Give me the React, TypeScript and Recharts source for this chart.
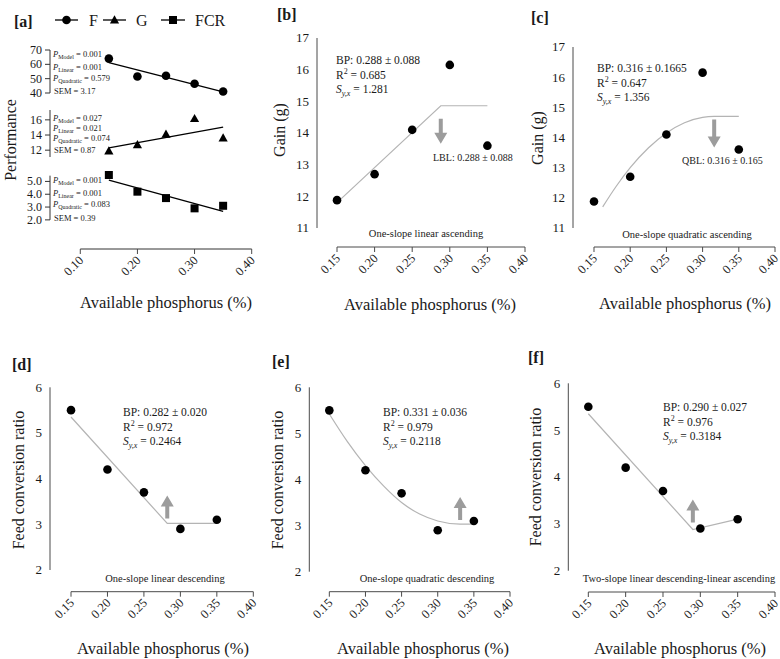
import React from 'react';
import { ComposedChart, Scatter, Line, XAxis, YAxis, ReferenceLine } from 'recharts';

const SERIF = '"Liberation Serif", "Times New Roman", Times, serif';
const AXIS = '#4a4a4a';
const INK = '#1a1a1a';
const FIT = '#b4b4b4';
const ARROW = '#9c9c9c';

// Dietary available phosphorus levels (%)
const phosphorus = [0.15, 0.2, 0.25, 0.3, 0.35];

// Performance responses
const feedIntake = [64, 51.5, 52, 46.5, 41];
const weightGain = [11.88, 12.7, 14.1, 16.15, 13.6];
const feedConversion = [5.5, 4.2, 3.7, 2.9, 3.1];

// Linear trend lines of panel a (fitted values at the lowest and highest level)
const trendX = [0.15, 0.35];
const feedIntakeTrend = [61.2, 40.8];
const weightGainTrend = [12.3, 15.05];
const feedConversionTrend = [5.1, 2.66];

// Regression statistics of panel a: P model, P linear, P quadratic, SEM
const feedIntakeStats = ['0.001', '0.001', '0.579', '3.17'];
const weightGainStats = ['0.027', '0.021', '0.074', '0.87'];
const feedConversionStats = ['0.001', '0.001', '0.083', '0.39'];

// Axis ticks
const ticksA = [0.1, 0.2, 0.3, 0.4];
const ticksBP = [0.15, 0.2, 0.25, 0.3, 0.35, 0.4];
const feedIntakeTicks = [40, 50, 60, 70];
const weightGainTicks = [12, 14, 16];
const feedConversionTicks = [2, 3, 4, 5];
const gainTicks = [11, 12, 13, 14, 15, 16, 17];
const fcrTicks = [2, 3, 4, 5, 6];

// Broken-line models
const gainLinearX = [0.15, 0.288, 0.35];
const gainLinearY = [11.8, 14.86, 14.86];
const gainQuadX = [0.162, 0.18, 0.2, 0.225, 0.25, 0.275, 0.3, 0.316, 0.35];
const gainQuadY = [11.7, 12.36, 13.0, 13.65, 14.15, 14.49, 14.67, 14.7, 14.7];
const fcrLinearX = [0.15, 0.282, 0.35];
const fcrLinearY = [5.35, 3.02, 3.02];
const fcrQuadX = [0.15, 0.175, 0.2, 0.225, 0.25, 0.275, 0.3, 0.331, 0.35];
const fcrQuadY = [5.42, 4.82, 4.3, 3.86, 3.5, 3.25, 3.1, 3.03, 3.03];
const fcrTwoSlopeX = [0.15, 0.29, 0.35];
const fcrTwoSlopeY = [5.35, 2.88, 3.1];

// Break points (BP)
const bpGainLinear = 0.288;
const bpGainQuad = 0.316;
const bpFcrLinear = 0.282;
const bpFcrQuad = 0.331;
const bpFcrTwoSlope = 0.29;

type Pt = { x: number; y: number };
const pairs = (xs: number[], ys: number[]): Pt[] => xs.map((x, i) => ({ x, y: ys[i] }));

const withMinor = (majors: number[], parts: number) => {
  const out: number[] = [];
  majors.forEach((m, i) => {
    out.push(m);
    if (i < majors.length - 1) {
      for (let k = 1; k < parts; k++) out.push(+(m + ((majors[i + 1] - m) * k) / parts).toFixed(4));
    }
  });
  return out;
};

const isMajor = (majors: number[], v: number) => majors.some((m) => Math.abs(m - v) < 1e-6);

const XTick = (props: any) => {
  const { x, y, payload } = props;
  const ax = x + 4;
  const ay = y + 12;
  return (
    <g>
      <line x1={x} y1={y} x2={x} y2={y + 5} stroke={AXIS} strokeWidth={1} />
      <text
        x={ax}
        y={ay}
        textAnchor="end"
        transform={`rotate(-45 ${ax} ${ay})`}
        fontSize={12.5}
        fontFamily={SERIF}
        fill={INK}
      >
        {Number(payload.value).toFixed(2)}
      </text>
    </g>
  );
};

const YTick = (props: any) => {
  const { x, y, payload, majors, fmt, stroke, fontSize } = props;
  const major = isMajor(majors, payload.value);
  return (
    <g>
      <line x1={x} y1={y} x2={x - (major ? 5 : 3)} y2={y} stroke={stroke || AXIS} strokeWidth={1} />
      {major && (
        <text x={x - 8} y={y} dy="0.34em" textAnchor="end" fontSize={fontSize || 13} fontFamily={SERIF} fill={INK}>
          {fmt ? fmt(payload.value) : String(payload.value)}
        </text>
      )}
    </g>
  );
};

const dotShape = (p: any) => <circle cx={p.cx} cy={p.cy} r={4.3} fill="#000" />;
const triangleShape = (p: any) => (
  <polygon
    points={`${p.cx},${p.cy - 4.8} ${p.cx + 4.6},${p.cy + 3.4} ${p.cx - 4.6},${p.cy + 3.4}`}
    fill="#000"
  />
);
const squareShape = (p: any) => <rect x={p.cx - 4} y={p.cy - 4} width={8} height={8} fill="#000" />;

const arrowShape = (dir: number, length: number) => (p: any) => {
  const { cx, cy } = p;
  const head = 11;
  const neck = cy + dir * (length - head);
  const tip = cy + dir * length;
  return (
    <polygon
      points={`${cx - 2},${cy} ${cx + 2},${cy} ${cx + 2},${neck} ${cx + 6.5},${neck} ${cx},${tip} ${cx - 6.5},${neck} ${cx - 2},${neck}`}
      fill={ARROW}
    />
  );
};

type Box = { left: number; top: number; width: number; height: number };
type Plot = { left: number; top: number; right: number; bottom: number };

type FitPanelProps = {
  box: Box;
  plot: Plot;
  xDomain: [number, number];
  yDomain: [number, number];
  yMajor: number[];
  points: Pt[];
  fit: Pt[];
  curve: 'linear' | 'monotone';
  arrow: Pt;
  arrowDir: number;
  arrowLength: number;
};

function FitPanel(p: FitPanelProps) {
  const margin = {
    top: p.plot.top - p.box.top,
    right: p.box.left + p.box.width - p.plot.right,
    bottom: 0,
    left: 0,
  };
  const yWidth = p.plot.left - p.box.left;
  const xHeight = p.box.top + p.box.height - p.plot.bottom;
  const yLo = p.yMajor[0];
  const yHi = p.yMajor[p.yMajor.length - 1];
  return (
    <div style={{ position: 'absolute', left: p.box.left, top: p.box.top }}>
      <ComposedChart width={p.box.width} height={p.box.height} margin={margin}>
        <XAxis
          type="number"
          dataKey="x"
          domain={p.xDomain}
          ticks={ticksBP}
          interval={0}
          height={xHeight}
          axisLine={false}
          tickLine={false}
          tickSize={0}
          tickMargin={0}
          tick={(t: any) => <XTick {...t} />}
        />
        <YAxis
          type="number"
          dataKey="y"
          domain={p.yDomain}
          ticks={withMinor(p.yMajor, 5)}
          interval={0}
          width={yWidth}
          axisLine={false}
          tickLine={false}
          tickSize={0}
          tickMargin={0}
          tick={(t: any) => <YTick {...t} majors={p.yMajor} />}
        />
        <ReferenceLine
          segment={[{ x: p.xDomain[0], y: yLo }, { x: p.xDomain[0], y: yHi }]}
          stroke={AXIS}
          ifOverflow="visible"
        />
        <ReferenceLine
          segment={[{ x: ticksBP[0], y: p.yDomain[0] }, { x: ticksBP[ticksBP.length - 1], y: p.yDomain[0] }]}
          stroke={AXIS}
          ifOverflow="visible"
        />
        <Line data={p.fit} dataKey="y" type={p.curve} stroke={FIT} strokeWidth={1.2} dot={false} isAnimationActive={false} />
        <Scatter data={[p.arrow]} shape={arrowShape(p.arrowDir, p.arrowLength)} isAnimationActive={false} />
        <Scatter data={p.points} shape={dotShape} isAnimationActive={false} />
      </ComposedChart>
    </div>
  );
}

// Panel a geometry shared by the three stacked response charts
const A_WIDTH = 262;
const A_PLOT_LEFT = 50;
const A_PLOT_RIGHT = 251.7;
const A_X_DOMAIN: [number, number] = [0.047, 0.4];

type TrendProps = {
  chartTop: number;
  chartHeight: number;
  plotTop: number;
  plotBottom: number;
  yDomain: [number, number];
  yTicks: number[];
  fmt?: (v: number) => string;
  points: Pt[];
  trend: Pt[];
  shape: (p: any) => React.ReactElement;
  withXAxis?: boolean;
};

function TrendChart(p: TrendProps) {
  const margin = {
    top: p.plotTop - p.chartTop,
    right: A_WIDTH - A_PLOT_RIGHT,
    left: 0,
    bottom: p.withXAxis ? 0 : p.chartTop + p.chartHeight - p.plotBottom,
  };
  return (
    <div style={{ position: 'absolute', left: 0, top: p.chartTop }}>
      <ComposedChart width={A_WIDTH} height={p.chartHeight} margin={margin}>
        <XAxis
          type="number"
          dataKey="x"
          domain={A_X_DOMAIN}
          ticks={ticksA}
          interval={0}
          hide={!p.withXAxis}
          height={p.withXAxis ? p.chartTop + p.chartHeight - p.plotBottom : 0}
          axisLine={false}
          tickLine={false}
          tickSize={0}
          tickMargin={0}
          tick={(t: any) => <XTick {...t} />}
        />
        <YAxis
          type="number"
          dataKey="y"
          domain={p.yDomain}
          ticks={p.yTicks}
          interval={0}
          width={A_PLOT_LEFT}
          axisLine={p.withXAxis ? false : { stroke: '#333' }}
          tickLine={false}
          tickSize={0}
          tickMargin={0}
          tick={(t: any) => <YTick {...t} majors={p.yTicks} fmt={p.fmt} stroke="#333" fontSize={12} />}
        />
        {p.withXAxis && (
          <ReferenceLine
            segment={[{ x: A_X_DOMAIN[0], y: p.yTicks[0] }, { x: A_X_DOMAIN[0], y: p.yDomain[1] }]}
            stroke="#333"
            ifOverflow="visible"
          />
        )}
        {p.withXAxis && (
          <ReferenceLine
            segment={[{ x: ticksA[0], y: p.yDomain[0] }, { x: ticksA[ticksA.length - 1], y: p.yDomain[0] }]}
            stroke="#333"
            ifOverflow="visible"
          />
        )}
        <Line data={p.trend} dataKey="y" type="linear" stroke="#000" strokeWidth={1.3} dot={false} isAnimationActive={false} />
        <Scatter data={p.points} shape={p.shape} isAnimationActive={false} />
      </ComposedChart>
    </div>
  );
}

const txt = { fontFamily: SERIF, fill: INK } as const;

const PStat = ({ x, y, sub, value }: { x: number; y: number; sub: string; value: string }) => (
  <text x={x} y={y} fontSize={8.5} {...txt}>
    <tspan fontStyle="italic">P</tspan>
    <tspan dy={2} fontSize={6}>{sub}</tspan>
    <tspan dy={-2}>{` = ${value}`}</tspan>
  </text>
);

const StatBlock = ({ x, ys, stats }: { x: number; ys: number[]; stats: string[] }) => (
  <g>
    <PStat x={x} y={ys[0]} sub="Model" value={stats[0]} />
    <PStat x={x} y={ys[1]} sub="Linear" value={stats[1]} />
    <PStat x={x} y={ys[2]} sub="Quadratic" value={stats[2]} />
    <text x={x + 1} y={ys[3]} fontSize={8.5} {...txt}>{`SEM = ${stats[3]}`}</text>
  </g>
);

const FitStats = ({ x, y, bp, r2, syx }: { x: number; y: number; bp: string; r2: string; syx: string }) => {
  const fs = 11.5;
  const gap = 14.5;
  return (
    <g>
      <text x={x} y={y} fontSize={fs} {...txt}>{`BP: ${bp}`}</text>
      <text x={x} y={y + gap} fontSize={fs} {...txt}>
        R<tspan dy={-4.5} fontSize={8}>2</tspan>
        <tspan dy={4.5}>{` = ${r2}`}</tspan>
      </text>
      <text x={x} y={y + gap * 2} fontSize={fs} {...txt}>
        <tspan fontStyle="italic">S</tspan>
        <tspan dy={2.5} fontSize={8} fontStyle="italic">y,x</tspan>
        <tspan dy={-2.5}>{` = ${syx}`}</tspan>
      </text>
    </g>
  );
};

const Letter = ({ x, y, s }: { x: number; y: number; s: string }) => (
  <text x={x} y={y} fontSize={16} fontWeight="bold" {...txt}>{s}</text>
);

const YTitle = ({ x, y, s }: { x: number; y: number; s: string }) => (
  <text x={x} y={y} fontSize={16} textAnchor="middle" transform={`rotate(-90 ${x} ${y})`} dy="0.35em" {...txt}>{s}</text>
);

const XTitle = ({ x, y }: { x: number; y: number }) => (
  <text x={x} y={y} fontSize={16.5} textAnchor="middle" {...txt}>Available phosphorus (%)</text>
);

const Caption = ({ x, y, s }: { x: number; y: number; s: string }) => (
  <text x={x} y={y} fontSize={10.5} textAnchor="middle" {...txt}>{s}</text>
);

export default function App() {
  const fPts = pairs(phosphorus, feedIntake);
  const gPts = pairs(phosphorus, weightGain);
  const fcrPts = pairs(phosphorus, feedConversion);

  return (
    <div style={{ position: 'absolute', left: 0, top: 0, width: 780, height: 659, background: '#fff', overflow: 'hidden' }}>
      {/* [a] performance with linear trends */}
      <TrendChart
        chartTop={40}
        chartHeight={60}
        plotTop={50}
        plotBottom={93}
        yDomain={[40, 70]}
        yTicks={feedIntakeTicks}
        points={fPts}
        trend={pairs(trendX, feedIntakeTrend)}
        shape={dotShape}
      />
      <TrendChart
        chartTop={100}
        chartHeight={65}
        plotTop={110}
        plotBottom={157}
        yDomain={[11.1, 17.3]}
        yTicks={weightGainTicks}
        points={gPts}
        trend={pairs(trendX, weightGainTrend)}
        shape={triangleShape}
      />
      <TrendChart
        chartTop={165}
        chartHeight={135}
        plotTop={175}
        plotBottom={249}
        yDomain={[-0.27, 5.45]}
        yTicks={feedConversionTicks}
        fmt={(v) => v.toFixed(1)}
        points={fcrPts}
        trend={pairs(trendX, feedConversionTrend)}
        shape={squareShape}
        withXAxis
      />

      {/* [b] one-slope linear ascending */}
      <FitPanel
        box={{ left: 262, top: 0, width: 270, height: 330 }}
        plot={{ left: 317, top: 38, right: 525, bottom: 247 }}
        xDomain={[0.1234, 0.4]}
        yDomain={[10.4, 17]}
        yMajor={gainTicks}
        points={gPts}
        fit={pairs(gainLinearX, gainLinearY)}
        curve="linear"
        arrow={{ x: bpGainLinear, y: 14.45 }}
        arrowDir={1}
        arrowLength={25}
      />

      {/* [c] one-slope quadratic ascending */}
      <FitPanel
        box={{ left: 532, top: 0, width: 248, height: 330 }}
        plot={{ left: 573, top: 47, right: 775, bottom: 247 }}
        xDomain={[0.121, 0.4]}
        yDomain={[10.37, 17]}
        yMajor={gainTicks}
        points={gPts}
        fit={pairs(gainQuadX, gainQuadY)}
        curve="monotone"
        arrow={{ x: bpGainQuad, y: 14.6 }}
        arrowDir={1}
        arrowLength={28}
      />

      {/* [d] one-slope linear descending */}
      <FitPanel
        box={{ left: 0, top: 330, width: 262, height: 329 }}
        plot={{ left: 50, top: 387.3, right: 253.3, bottom: 591.7 }}
        xDomain={[0.1212, 0.4]}
        yDomain={[1.525, 6]}
        yMajor={fcrTicks}
        points={fcrPts}
        fit={pairs(fcrLinearX, fcrLinearY)}
        curve="linear"
        arrow={{ x: bpFcrLinear, y: 3.13 }}
        arrowDir={-1}
        arrowLength={23}
      />

      {/* [e] one-slope quadratic descending */}
      <FitPanel
        box={{ left: 262, top: 330, width: 258, height: 329 }}
        plot={{ left: 309.3, top: 387.3, right: 510, bottom: 591.7 }}
        xDomain={[0.1223, 0.4]}
        yDomain={[1.566, 6]}
        yMajor={fcrTicks}
        points={fcrPts}
        fit={pairs(fcrQuadX, fcrQuadY)}
        curve="monotone"
        arrow={{ x: bpFcrQuad, y: 3.12 }}
        arrowDir={-1}
        arrowLength={23}
      />

      {/* [f] two-slope linear descending-linear ascending */}
      <FitPanel
        box={{ left: 520, top: 330, width: 260, height: 329 }}
        plot={{ left: 568.3, top: 383.3, right: 775, bottom: 592 }}
        xDomain={[0.1232, 0.4]}
        yDomain={[1.546, 6]}
        yMajor={fcrTicks}
        points={fcrPts}
        fit={pairs(fcrTwoSlopeX, fcrTwoSlopeY)}
        curve="linear"
        arrow={{ x: bpFcrTwoSlope, y: 3.03 }}
        arrowDir={-1}
        arrowLength={23}
      />

      {/* titles, legend and fit statistics */}
      <svg width={780} height={659} style={{ position: 'absolute', left: 0, top: 0, pointerEvents: 'none' }}>
        <Letter x={14} y={27} s="[a]" />
        <g>
          <line x1={55} y1={20} x2={78} y2={20} stroke="#000" strokeWidth={1.3} />
          {dotShape({ cx: 66.5, cy: 20 })}
          <text x={89} y={26} fontSize={16} {...txt}>F</text>
          <line x1={103} y1={20} x2={126} y2={20} stroke="#000" strokeWidth={1.3} />
          {triangleShape({ cx: 114.5, cy: 20 })}
          <text x={136} y={26} fontSize={16} {...txt}>G</text>
          <line x1={161} y1={20} x2={185} y2={20} stroke="#000" strokeWidth={1.3} />
          {squareShape({ cx: 173, cy: 20 })}
          <text x={195} y={26} fontSize={16} {...txt}>FCR</text>
        </g>
        <YTitle x={10} y={140} s="Performance" />
        <StatBlock x={53} ys={[57, 69.5, 81, 94]} stats={feedIntakeStats} />
        <StatBlock x={53} ys={[121, 130.5, 141, 152.5]} stats={weightGainStats} />
        <StatBlock x={53} ys={[183, 196, 207, 220.5]} stats={feedConversionStats} />
        <XTitle x={166} y={308} />

        <Letter x={277} y={20} s="[b]" />
        <YTitle x={279} y={130} s="Gain (g)" />
        <FitStats x={336} y={64} bp="0.288 ± 0.088" r2="0.685" syx="1.281" />
        <text x={433} y={161} fontSize={10} {...txt}>{`LBL: ${bpGainLinear.toFixed(3)} ± 0.088`}</text>
        <Caption x={426} y={237} s="One-slope linear ascending" />
        <XTitle x={430} y={310} />

        <Letter x={531} y={23} s="[c]" />
        <YTitle x={537} y={138} s="Gain (g)" />
        <FitStats x={597} y={72} bp="0.316 ± 0.1665" r2="0.647" syx="1.356" />
        <text x={682} y={164} fontSize={10} {...txt}>{`QBL: ${bpGainQuad.toFixed(3)} ± 0.165`}</text>
        <Caption x={687} y={238} s="One-slope quadratic ascending" />
        <XTitle x={685} y={309} />

        <Letter x={12} y={370} s="[d]" />
        <YTitle x={18} y={480} s="Feed conversion ratio" />
        <FitStats x={123} y={416} bp="0.282 ± 0.020" r2="0.972" syx="0.2464" />
        <Caption x={165} y={582} s="One-slope linear descending" />
        <XTitle x={163} y={654} />

        <Letter x={272} y={367} s="[e]" />
        <YTitle x={277} y={480} s="Feed conversion ratio" />
        <FitStats x={383} y={416} bp="0.331 ± 0.036" r2="0.979" syx="0.2118" />
        <Caption x={427} y={582} s="One-slope quadratic descending" />
        <XTitle x={423} y={654} />

        <Letter x={528} y={363} s="[f]" />
        <YTitle x={535} y={477} s="Feed conversion ratio" />
        <FitStats x={663} y={411} bp="0.290 ± 0.027" r2="0.976" syx="0.3184" />
        <Caption x={679} y={582} s="Two-slope linear descending-linear ascending" />
        <XTitle x={680} y={654} />
      </svg>
    </div>
  );
}
